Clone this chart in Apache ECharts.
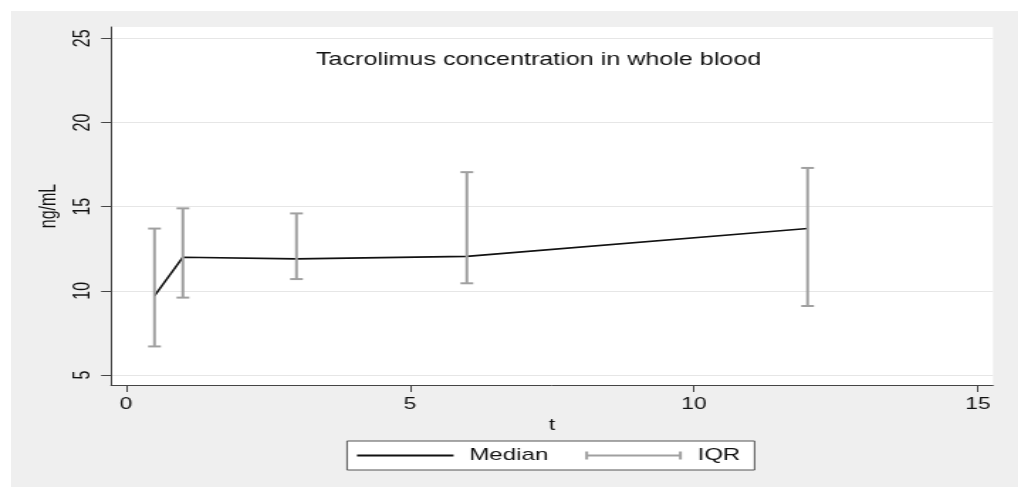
<!DOCTYPE html>
<html>
<head>
<meta charset="utf-8">
<script src="https://cdn.jsdelivr.net/npm/echarts@6/dist/echarts.min.js"></script>
<style>
  html, body { margin: 0; padding: 0; background: #ffffff; overflow: hidden; }
  #panel { position: absolute; left: 11px; top: 11px; width: 1007px; height: 476px; background: #efefef; }
  /* the chart is laid out narrow and widened horizontally */
  #chart { position: absolute; left: 0; top: 0; width: 719px; height: 487px;
           transform: scaleX(1.42); transform-origin: 0 0; }
</style>
</head>
<body>
<div id="panel"></div>
<div id="chart"></div>
<script>
// Tacrolimus whole-blood concentration (ng/mL) by time t
const times  = [0.5, 1, 3, 6, 12];
const median = [9.7, 12.0, 11.9, 12.05, 13.7];
const q1     = [6.7, 9.6, 10.7, 10.45, 9.1];
const q3     = [13.7, 14.9, 14.6, 17.05, 17.3];

const xTicks = [0, 5, 10, 15];
const yTicks = [5, 10, 15, 20, 25];

const FONT = 'Liberation Sans, Arial, sans-serif';

const lineData = times.map((t, i) => [t, median[i]]);
const iqrData  = times.map((t, i) => [t, q1[i], q3[i]]);

const chart = echarts.init(document.getElementById('chart'), null, { renderer: 'canvas' });

chart.setOption({
  animation: false,
  backgroundColor: 'transparent',
  textStyle: { fontFamily: FONT },
  title: {
    text: 'Tacrolimus concentration in whole blood',
    left: 222.5,
    top: 51,
    padding: 0,
    textStyle: { fontFamily: FONT, fontSize: 17.7, fontWeight: 'normal', color: '#111111' }
  },
  grid: {
    left: 78.2, right: 19.7, top: 27, bottom: 102,
    show: true, backgroundColor: '#ffffff', borderWidth: 0
  },
  legend: {
    left: 244.4,
    top: 441,
    orient: 'horizontal',
    backgroundColor: '#ffffff',
    borderColor: '#555555',
    borderWidth: 1,
    borderRadius: 0,
    padding: [6, 10, 6, 7],
    itemGap: 26,
    itemWidth: 68,
    itemHeight: 8,
    textStyle: { fontFamily: FONT, fontSize: 17, color: '#111111', padding: [0, 0, 0, 6] },
    data: [
      // plain line key (bounds padded with move-to points so the stroke stays thin)
      { name: 'Median', icon: 'path://M0,0M0,3h68v2h-68zM68,8', itemStyle: { color: '#111111' } },
      { name: 'IQR', icon: 'path://M0,0h2v3h64v-3h2v8h-2v-3h-64v3h-2z', itemStyle: { color: '#a0a0a0' } }
    ]
  },
  xAxis: {
    type: 'value',
    min: -0.265,
    max: 15.265,
    name: 't',
    nameLocation: 'middle',
    nameGap: 27,
    nameTextStyle: { fontFamily: FONT, fontSize: 16, color: '#111111' },
    axisLine: { show: true, onZero: false, lineStyle: { color: '#444444', width: 1 } },
    axisTick: { show: true, length: 7, customValues: xTicks, lineStyle: { color: '#444444' } },
    axisLabel: { customValues: xTicks, margin: 12, fontFamily: FONT, fontSize: 16, color: '#111111' },
    splitLine: { show: false }
  },
  yAxis: {
    type: 'value',
    min: 4.41,
    max: 25.67,
    name: 'ng/mL',
    nameLocation: 'middle',
    nameRotate: 90,
    nameGap: 33,
    nameTextStyle: { fontFamily: FONT, fontSize: 16, color: '#111111' },
    axisLine: { show: true, onZero: false, lineStyle: { color: '#444444', width: 1 } },
    axisTick: { show: true, length: 7, customValues: yTicks, lineStyle: { color: '#444444' } },
    axisLabel: { customValues: yTicks, rotate: 90, margin: 12, fontFamily: FONT, fontSize: 16, color: '#111111' },
    splitLine: { show: true, lineStyle: { color: '#e6e6e6', width: 1.2 } }
  },
  series: [
    {
      name: 'Median',
      type: 'line',
      data: lineData,
      symbol: 'none',
      smooth: false,
      lineStyle: { color: '#111111', width: 1.6 },
      itemStyle: { color: '#111111' },
      z: 2
    },
    {
      name: 'IQR',
      type: 'custom',
      data: iqrData,
      encode: { x: 0, y: [1, 2] },
      itemStyle: { color: '#a0a0a0' },
      z: 3,
      renderItem: function (params, api) {
        const t = api.value(0);
        const lo = api.coord([t, api.value(1)]);
        const hi = api.coord([t, api.value(2)]);
        const hw = 4.5;
        const style = { stroke: '#a0a0a0', lineWidth: 2, fill: null };
        return {
          type: 'group',
          children: [
            { type: 'line', shape: { x1: lo[0], y1: lo[1], x2: hi[0], y2: hi[1] }, style: style },
            { type: 'line', shape: { x1: lo[0] - hw, y1: lo[1], x2: lo[0] + hw, y2: lo[1] }, style: style },
            { type: 'line', shape: { x1: hi[0] - hw, y1: hi[1], x2: hi[0] + hw, y2: hi[1] }, style: style }
          ]
        };
      }
    }
  ]
});
</script>
</body>
</html>
